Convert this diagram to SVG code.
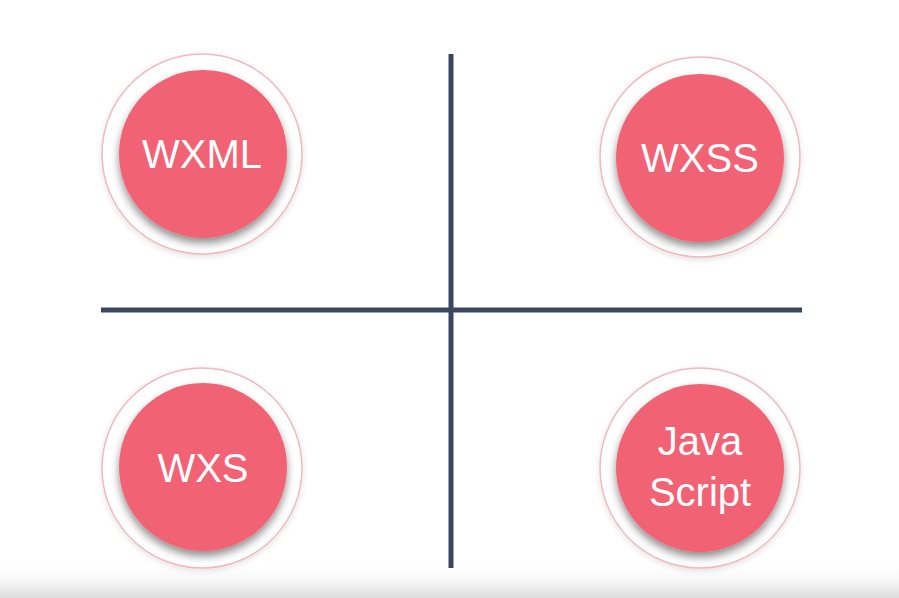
<svg xmlns="http://www.w3.org/2000/svg" width="899" height="598" viewBox="0 0 899 598">
<defs>
<linearGradient id="bg" x1="0" y1="0" x2="0" y2="1">
<stop offset="0" stop-color="#ffffff" stop-opacity="0"/>
<stop offset="1" stop-color="#dcdcdc"/>
</linearGradient>
<filter id="sh" x="-30%" y="-30%" width="160%" height="170%">
<feGaussianBlur in="SourceAlpha" stdDeviation="4"/>
<feOffset dy="5" result="b"/>
<feComponentTransfer><feFuncA type="linear" slope="0.45"/></feComponentTransfer>
<feMerge><feMergeNode/><feMergeNode in="SourceGraphic"/></feMerge>
</filter>
<filter id="sh2" x="-20%" y="-20%" width="140%" height="140%">
<feGaussianBlur in="SourceAlpha" stdDeviation="3"/>
<feOffset dy="2"/>
<feComponentTransfer><feFuncA type="linear" slope="0.12"/></feComponentTransfer>
<feMerge><feMergeNode/><feMergeNode in="SourceGraphic"/></feMerge>
</filter>
</defs>
<style>
.ring{fill:#ffffff;stroke:#f1b8bf;stroke-width:1.5}
.core{fill:#f26274}
.lbl{font-family:"Liberation Sans",Arial,sans-serif;font-size:40px;fill:#ffffff;text-anchor:middle}
.ln{stroke:#3a465f;stroke-width:5}
</style>
<rect width="899" height="598" fill="#ffffff"/>
<rect x="0" y="562" width="899" height="36" fill="url(#bg)"/>
<g id="connectors">
<line class="ln" x1="451" y1="54" x2="451" y2="568"/>
<line class="ln" x1="101" y1="310" x2="802" y2="310"/>
</g>
<g id="wxml">
<circle class="ring" cx="202" cy="154" r="100" filter="url(#sh2)"/>
<circle class="core" cx="203" cy="154" r="84" filter="url(#sh)"/>
<text class="lbl" x="202" y="168">WXML</text>
</g>
<g id="wxss">
<circle class="ring" cx="700" cy="157" r="100" filter="url(#sh2)"/>
<circle class="core" cx="700" cy="158" r="84" filter="url(#sh)"/>
<text class="lbl" x="700" y="172">WXSS</text>
</g>
<g id="wxs">
<circle class="ring" cx="202" cy="468" r="100" filter="url(#sh2)"/>
<circle class="core" cx="203" cy="467" r="84" filter="url(#sh)"/>
<text class="lbl" x="203" y="482">WXS</text>
</g>
<g id="javascript">
<circle class="ring" cx="700" cy="468" r="100" filter="url(#sh2)"/>
<circle class="core" cx="700" cy="468" r="84" filter="url(#sh)"/>
<text class="lbl" x="700" y="455">Java</text>
<text class="lbl" x="700" y="506">Script</text>
</g>
</svg>
